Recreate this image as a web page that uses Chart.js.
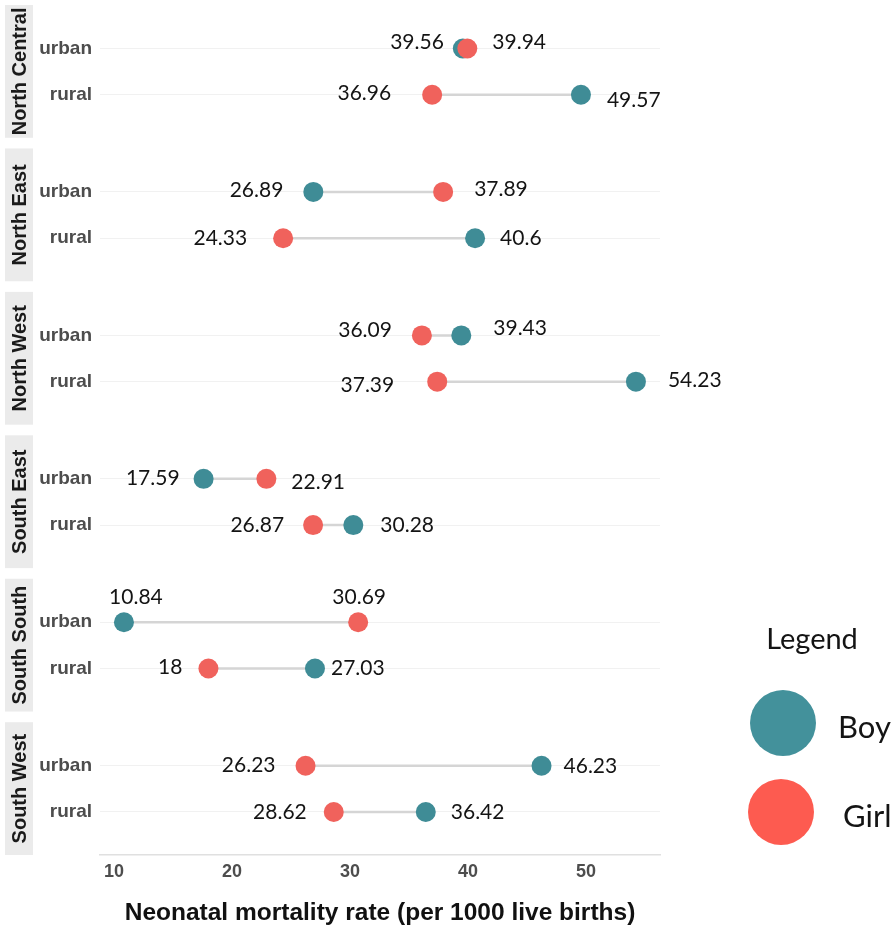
<!DOCTYPE html>
<html lang="en">
<head>
<meta charset="UTF-8">
<title>Neonatal mortality rate by region</title>
<script src="https://cdn.jsdelivr.net/npm/chart.js@4.4.1/dist/chart.umd.min.js"></script>
<style>
  body { margin: 0; background: #fff; }
  #chart { display: block; }
</style>
</head>
<body>
<canvas id="chart" width="895" height="931"></canvas>
<script>
// facets and rows
const regions = ['North Central', 'North East', 'North West', 'South East', 'South South', 'South West'];
const areas = ['urban', 'rural'];

// neonatal mortality rate (per 1000 live births)
const boyUrban  = [39.56, 26.89, 39.43, 17.59, 10.84, 46.23];
const boyRural  = [49.57, 40.6, 54.23, 30.28, 27.03, 36.42];
const girlUrban = [39.94, 37.89, 36.09, 22.91, 30.69, 26.23];
const girlRural = [36.96, 24.33, 37.39, 26.87, 18, 28.62];

const xTicks = [10, 20, 30, 40, 50];
const seriesNames = ['Boy', 'Girl'];

const boyColor = '#3f8c96';
const girlColor = '#f0625c';
const legendColors = ['#43919b', '#fd5b50'];

// every facet takes PANEL units on the y scale, rows sit at +1 and +2
const PANEL = 3.1;
const PAD_TOP = 0.94, PAD_BOTTOM = 0.93;
function rowY(i, j) { return i * PANEL + 1 + j; }

// small label shifts in px, per row: [left dx, left dy, right dx, right dy]
const nudges = [
  [9, -6, -3, -6], [-13, -2, -2, 5],
  [-2, -2, 3, -3], [-8, 0, -3, 0],
  [-2, -5, 4, -7], [-15, 4, 4, -1],
  [4, -1, -3, 3], [-1, 0, -1, 0],
  [12, -25, 1, -25], [2, -1, -12, 0],
  [-2, 0, -6, 1], [1, 0, -3, 0]
];
const labelsAbove = [8]; // South South urban: labels sit over the dots

function values(j, urban, rural) {
  return regions.map((r, i) => ({ x: (j === 0 ? urban : rural)[i], y: rowY(i, j) }));
}

// grey segment between the two dots of each row
const segments = [];
regions.forEach((r, i) => {
  areas.forEach((a, j) => {
    const b = j === 0 ? boyUrban[i] : boyRural[i];
    const g = j === 0 ? girlUrban[i] : girlRural[i];
    segments.push({
      label: r + ' ' + a,
      data: [{ x: b, y: rowY(i, j) }, { x: g, y: rowY(i, j) }],
      showLine: true,
      borderColor: '#d5d5d5',
      borderWidth: 2.5,
      pointRadius: 0,
      order: 2
    });
  });
});

const boyData = values(0, boyUrban, boyRural).concat(values(1, boyUrban, boyRural));
const girlData = values(0, girlUrban, girlRural).concat(values(1, girlUrban, girlRural));

// strips with region names on the left
const stripPlugin = {
  id: 'strips',
  afterDraw(chart) {
    const ctx = chart.ctx, y = chart.scales.y;
    ctx.save();
    regions.forEach((r, i) => {
      const top = y.getPixelForValue(i * PANEL + 1 - PAD_TOP);
      const bottom = y.getPixelForValue(i * PANEL + 2 + PAD_BOTTOM);
      ctx.fillStyle = '#ebebeb';
      ctx.fillRect(5, top, 28, bottom - top);
      ctx.save();
      ctx.translate(19, (top + bottom) / 2);
      ctx.rotate(-Math.PI / 2);
      ctx.fillStyle = '#1a1a1a';
      ctx.font = 'bold 20px "Liberation Sans", Arial, sans-serif';
      ctx.textAlign = 'center';
      ctx.textBaseline = 'middle';
      ctx.fillText(r, 0, 1);
      ctx.restore();
    });
    ctx.restore();
  }
};

// value labels next to the dots
const valuePlugin = {
  id: 'values',
  afterDatasetsDraw(chart) {
    const ctx = chart.ctx, x = chart.scales.x, y = chart.scales.y;
    ctx.save();
    ctx.font = '21px Lato, sans-serif';
    ctx.fillStyle = '#141414';
    ctx.textBaseline = 'middle';
    regions.forEach((r, i) => {
      areas.forEach((a, j) => {
        const k = i * 2 + j;
        const b = j === 0 ? boyUrban[i] : boyRural[i];
        const g = j === 0 ? girlUrban[i] : girlRural[i];
        const lo = Math.min(b, g), hi = Math.max(b, g);
        const py = y.getPixelForValue(rowY(i, j));
        const n = nudges[k];
        if (labelsAbove.includes(k)) {
          ctx.textAlign = 'center';
          ctx.fillText(String(lo), x.getPixelForValue(lo) + n[0], py + n[1]);
          ctx.fillText(String(hi), x.getPixelForValue(hi) + n[2], py + n[3]);
        } else {
          ctx.textAlign = 'right';
          ctx.fillText(String(lo), x.getPixelForValue(lo) - 28 + n[0], py + n[1]);
          ctx.textAlign = 'left';
          ctx.fillText(String(hi), x.getPixelForValue(hi) + 28 + n[2], py + n[3]);
        }
      });
    });
    ctx.restore();
  }
};

// legend drawn by hand to get the big circles
const legendPlugin = {
  id: 'bigLegend',
  afterDraw(chart) {
    const ctx = chart.ctx;
    ctx.save();
    ctx.fillStyle = '#141414';
    ctx.textBaseline = 'middle';
    ctx.textAlign = 'center';
    ctx.font = '29px Lato, sans-serif';
    ctx.fillText('Legend', 812, 640);
    const rows = [[783, 723, 838], [781, 812, 843]];
    rows.forEach((p, k) => {
      ctx.beginPath();
      ctx.arc(p[0], p[1], 33, 0, Math.PI * 2);
      ctx.fillStyle = legendColors[k];
      ctx.fill();
      ctx.fillStyle = '#141414';
      ctx.textAlign = 'left';
      ctx.font = '31px Lato, sans-serif';
      ctx.fillText(seriesNames[k], p[2], p[1] + 5);
    });
    ctx.restore();
  }
};

new Chart(document.getElementById('chart'), {
  type: 'scatter',
  data: {
    datasets: [
      { label: seriesNames[0], data: boyData, backgroundColor: boyColor, borderWidth: 0, pointRadius: 10, order: 1 },
      { label: seriesNames[1], data: girlData, backgroundColor: girlColor, borderWidth: 0, pointRadius: 10, order: 0 }
    ].concat(segments)
  },
  options: {
    responsive: false,
    animation: false,
    devicePixelRatio: 1,
    layout: { autoPadding: false, padding: { top: 5, right: 235, bottom: 0, left: 0 } },
    plugins: {
      legend: { display: false },
      tooltip: { enabled: false }
    },
    scales: {
      x: {
        type: 'linear',
        min: 8.81,
        max: 56.27,
        afterBuildTicks: s => { s.ticks = xTicks.map(v => ({ value: v })); },
        afterFit: s => { s.height = 76; s.paddingLeft = 0; s.paddingRight = 0; },
        grid: { display: false, drawTicks: false },
        border: { display: true, color: '#e0e0e0', width: 1.5 },
        ticks: {
          font: { family: '"Liberation Sans", Arial, sans-serif', weight: 'bold', size: 18 },
          color: '#4d4d4d',
          padding: 6
        },
        title: {
          display: true,
          text: 'Neonatal mortality rate (per 1000 live births)',
          font: { family: '"Liberation Sans", Arial, sans-serif', weight: 'bold', size: 24.5 },
          color: '#111',
          padding: { top: 0, bottom: 3 }
        }
      },
      y: {
        type: 'linear',
        reverse: true,
        min: 1 - PAD_TOP,
        max: (regions.length - 1) * PANEL + 2 + PAD_BOTTOM,
        afterBuildTicks: s => {
          const t = [];
          regions.forEach((r, i) => areas.forEach((a, j) => t.push({ value: rowY(i, j) })));
          s.ticks = t;
        },
        afterFit: s => { s.width = 100; s.paddingTop = 0; s.paddingBottom = 0; },
        grid: { color: '#f1f1f1', lineWidth: 1, drawTicks: false },
        border: { display: false },
        ticks: {
          autoSkip: false,
          callback: (v, idx) => areas[idx % 2],
          font: { family: '"Liberation Sans", Arial, sans-serif', weight: 'bold', size: 19 },
          color: '#4d4d4d',
          padding: 8
        }
      }
    }
  },
  plugins: [stripPlugin, valuePlugin, legendPlugin]
});
</script>
</body>
</html>
